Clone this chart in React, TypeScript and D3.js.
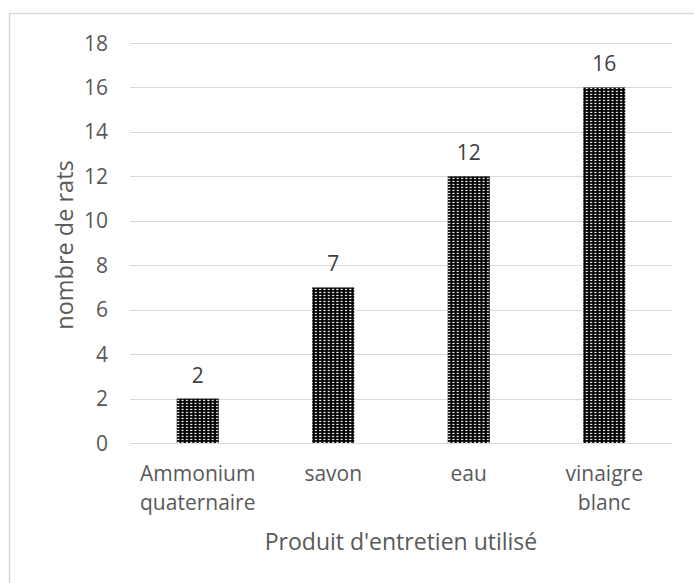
import React from "react";
import * as d3 from "d3";

const categories = [["Ammonium", "quaternaire"], ["savon"], ["eau"], ["vinaigre", "blanc"]];
const values = [2, 7, 12, 16];
const yTicks = [0, 2, 4, 6, 8, 10, 12, 14, 16, 18];
const xTitle = "Produit d'entretien utilisé";
const yTitle = "nombre de rats";

export default function App() {
  const W = 694, H = 583;
  const left = 130, right = 672, top = 43, bottom = 443;
  const x = d3.scaleBand<number>().domain(values.map((_, i) => i)).range([left, right]).paddingInner(0.69).paddingOuter(0.345);
  const y = d3.scaleLinear().domain([0, 18]).range([bottom, top]);
  const font = "'Open Sans', 'Liberation Sans', sans-serif";
  const grey = "#595959";
  return (
    <svg width={W} height={H} style={{ position: "absolute", left: 0, top: 0, background: "#fff" }} fontFamily={font}>
      <defs>
        <pattern id="dots" width="4.3" height="3" patternUnits="userSpaceOnUse">
          <rect width="4.3" height="3" fill="#000" />
          <rect x="1" y="0.8" width="2" height="1.3" fill="#fff" />
        </pattern>
      </defs>
      <rect x={9.5} y={13.5} width={700} height={600} fill="#fff" stroke="#d9d9d9" strokeWidth={1.5} />
      {yTicks.map((t) => (
        <g key={t}>
          <line x1={left} x2={right} y1={Math.round(y(t)) + 0.5} y2={Math.round(y(t)) + 0.5} stroke="#d9d9d9" strokeWidth={1} />
          <text x={108} y={y(t)} dy="0.36em" textAnchor="end" fontSize={21} fill={grey}>{t}</text>
        </g>
      ))}
      {values.map((v, i) => (
        <g key={i}>
          <rect x={x(i)} y={y(v)} width={x.bandwidth()} height={y(0) - y(v)} fill="url(#dots)" />
          <text x={x(i)! + x.bandwidth() / 2} y={y(v) - 16} textAnchor="middle" fontSize={21} fill="#404040">{v}</text>
          {categories[i].map((line, j) => (
            <text key={j} x={x(i)! + x.bandwidth() / 2} y={481 + j * 29} textAnchor="middle" fontSize={21} fill={grey}>{line}</text>
          ))}
        </g>
      ))}
      <text x={(left + right) / 2} y={550} textAnchor="middle" fontSize={23} fill={grey}>{xTitle}</text>
      <text transform={`translate(73,245) rotate(-90)`} textAnchor="middle" fontSize={23.5} fill={grey}>{yTitle}</text>
    </svg>
  );
}
